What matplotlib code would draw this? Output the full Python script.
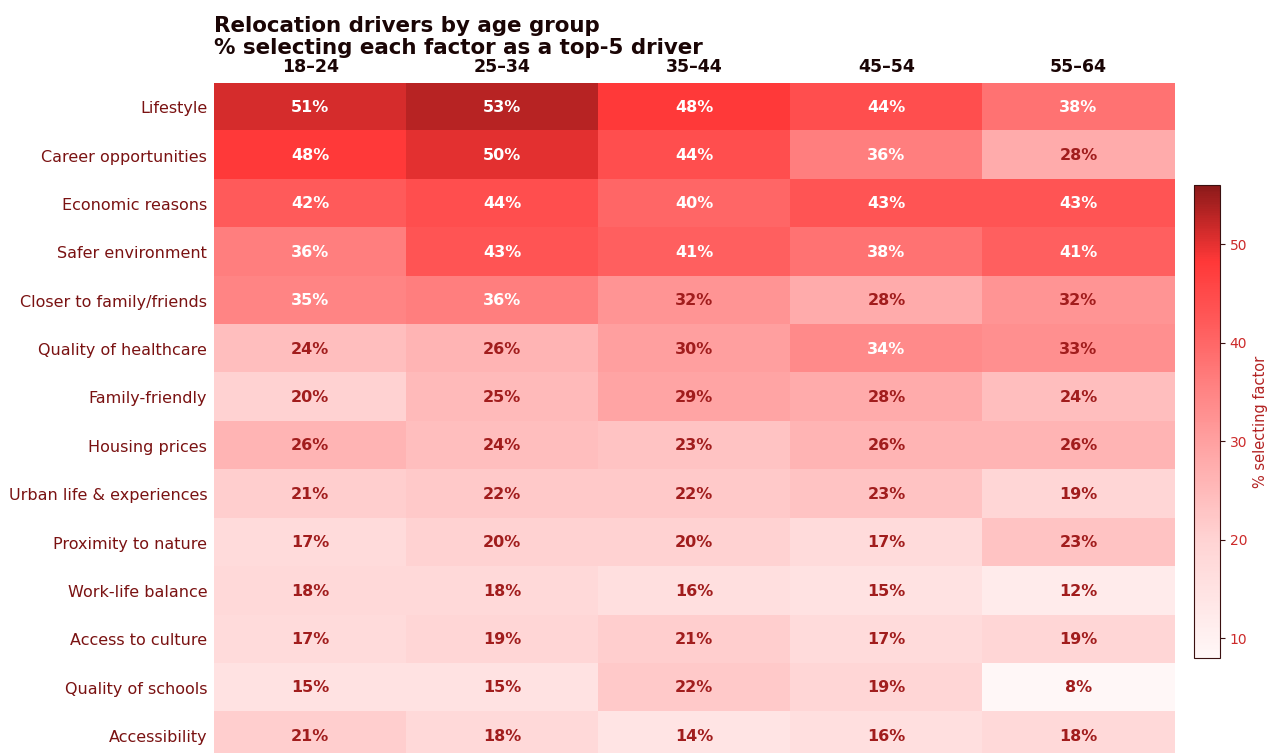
import numpy as np
import matplotlib
matplotlib.use("Agg")
import matplotlib.pyplot as plt
from matplotlib.colors import LinearSegmentedColormap

age_groups = ["18–24", "25–34", "35–44", "45–54", "55–64"]
factors = [
    "Lifestyle", "Career opportunities", "Economic reasons", "Safer environment",
    "Closer to family/friends", "Quality of healthcare", "Family-friendly",
    "Housing prices", "Urban life & experiences", "Proximity to nature",
    "Work-life balance", "Access to culture", "Quality of schools", "Accessibility",
]
lifestyle = [51, 53, 48, 44, 38]
career = [48, 50, 44, 36, 28]
economic = [42, 44, 40, 43, 43]
safer = [36, 43, 41, 38, 41]
family_friends = [35, 36, 32, 28, 32]
healthcare = [24, 26, 30, 34, 33]
family_friendly = [20, 25, 29, 28, 24]
housing = [26, 24, 23, 26, 26]
urban = [21, 22, 22, 23, 19]
nature = [17, 20, 20, 17, 23]
work_life = [18, 18, 16, 15, 12]
culture = [17, 19, 21, 17, 19]
schools = [15, 15, 22, 19, 8]
accessibility = [21, 18, 14, 16, 18]

data = np.array([lifestyle, career, economic, safer, family_friends, healthcare,
                 family_friendly, housing, urban, nature, work_life, culture,
                 schools, accessibility])

cmap = LinearSegmentedColormap.from_list("reds", [
    (0.0, "#fff7f7"), (0.25, "#ffd3d3"), (0.42, "#ffaaaa"), (0.58, "#ff8080"),
    (0.71, "#ff5a5a"), (0.84, "#ff3838"), (0.94, "#b82424"), (1.0, "#8b1a1a")])

fig = plt.figure(figsize=(12.67, 7.53), dpi=100)
ax = fig.add_axes([0.169, -0.0098, 0.758, 0.8996])
im = ax.imshow(data, cmap=cmap, vmin=8, vmax=56, aspect="auto")

for i in range(data.shape[0]):
    for j in range(data.shape[1]):
        v = data[i, j]
        c = "white" if v >= 34 else "#a11d1d"
        ax.text(j, i, f"{v}%", ha="center", va="center", color=c,
                fontsize=11.5, fontweight="bold")

ax.set_xticks(range(len(age_groups)))
ax.set_xticklabels(age_groups, fontsize=12.5, fontweight="bold", color="#1a0505")
ax.xaxis.tick_top()
ax.set_yticks(range(len(factors)))
ax.set_yticklabels(factors, fontsize=11.5, color="#7a1212")
ax.tick_params(length=0, pad=5)
for s in ax.spines.values():
    s.set_visible(False)

fig.text(0.169, 1 - 16 / 753, "Relocation drivers by age group\n% selecting each factor as a top-5 driver",
         ha="left", va="top", fontsize=15.4, fontweight="bold", color="#1a0505",
         linespacing=1.12)

cax = fig.add_axes([0.9424, 0.1262, 0.0205, 0.628])
cb = fig.colorbar(im, cax=cax)
cb.set_ticks([10, 20, 30, 40, 50])
cb.ax.tick_params(labelsize=10, labelcolor="#cc2a2a", color="#3a1010")
cb.outline.set_edgecolor("#3a1010")
cb.set_label("% selecting factor", color="#b22222", fontsize=10.5)

fig.savefig("out.png", dpi=100)
